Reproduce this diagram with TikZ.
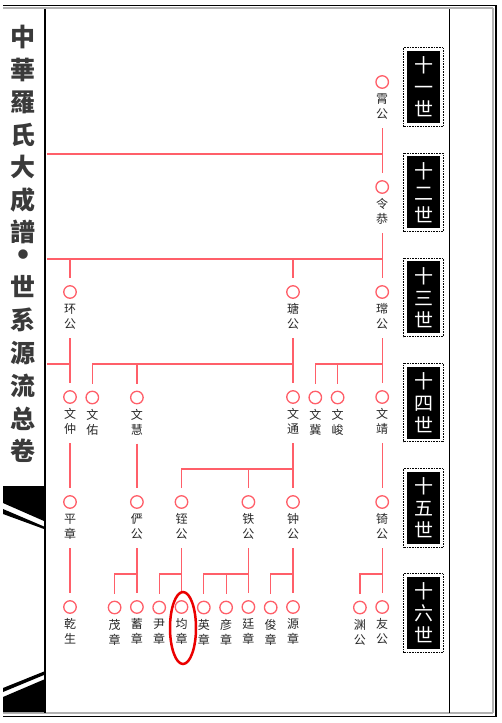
\documentclass[tikz,border=0pt]{standalone}
\usepackage{fontspec}
\usetikzlibrary{shapes.geometric}
\newfontfamily\cjk{Noto Sans CJK SC}
\definecolor{rl}{RGB}{255,95,105}
\definecolor{txt}{RGB}{40,40,40}
\definecolor{ttl}{RGB}{58,58,58}
\definecolor{ring}{RGB}{235,0,0}
\tikzset{
  pc/.style={circle,draw=rl,line width=1.3pt,minimum size=12.5pt,inner sep=0pt},
  lbl/.style={align=center,inner sep=0pt,text=txt,font=\cjk\fontsize{12}{15}\selectfont},
  conn/.style={draw=rl,line width=1.2pt},
  genbox/.style={fill=black,text=white,minimum width=33.5pt,minimum height=72pt,inner sep=0pt,align=center,font=\cjk\fontsize{19}{22}\selectfont},
  gendots/.style={draw=black,line width=1pt,dash pattern=on 0.8pt off 0.8pt},
  titlech/.style={inner sep=0pt,text=ttl,font=\cjk\bfseries\fontsize{25}{25}\selectfont}
}
\newcommand\person[4]{%
  \node[pc] (#1) at (#2,#3) {};
  \node[lbl] (#1-l) at (#2,#3+24.5) {#4};
  \coordinate (#1-t) at (#2,#3-14);
  \coordinate (#1-b) at (#2,#3+46);
}
\begin{document}
\begin{tikzpicture}[x=1pt,y=-1pt]
\useasboundingbox (0,0) rectangle (502,723);
\fill[white] (0,0) rectangle (502,723);
% frame
\draw[line width=1.2pt,black] (3,5.5) -- (497,5.5);
\draw[line width=2.5pt,gray!60] (3,8) -- (493,8);
\draw[line width=1.5pt,gray!60] (493,8) -- (493,713);
\draw[line width=2pt,black] (495.5,5) -- (495.5,717);
\draw[line width=2pt,gray!60] (3,713) -- (493,713);
\draw[line width=1.5pt,black] (3,716.5) -- (497,716.5);
\draw[line width=2pt,black] (45,9) -- (45,713);
\draw[line width=1pt,black] (449,9) -- (449,713);
% left decorations
\fill[black] (3,486) -- (44,486) -- (44,521) -- (3,503) -- cycle;
\fill[black] (3,509) -- (44,526.5) -- (44,529) -- (3,514) -- cycle;
\fill[black] (3,688) -- (44,671.5) -- (44,675) -- (3,692) -- cycle;
\fill[black] (3,697) -- (44,679.5) -- (44,712) -- (3,712) -- cycle;
% title
\foreach \c/\yy [count=\i] in {中/37,華/69.5,羅/102,氏/134.5,大/167,成/199.5,譜/232,世/287,系/320,源/353,流/386,总/418.5,卷/451}
  \node[titlech] (t\i) at (23,\yy) {\c};
\node[inner sep=0pt,text=ttl,font=\cjk\bfseries\fontsize{34}{34}\selectfont] (tdot) at (23,259) {•};
% generation boxes
\foreach \g/\t [count=\i from 0] in {11/一,12/二,13/三,14/四,15/五,16/六}{
  \node[genbox] (gen\g) at (423.5,{87+105.2*\i}) {十\\\t\\世};
  \draw[gendots] ([shift={(-2.8,-3)}]gen\g.north west) rectangle ([shift={(2.8,3)}]gen\g.south east);
}
% people
\person{xiao}{382.2}{82}{霄\\公}
\person{lingong}{382.2}{187}{令\\恭}
\person{huan}{70}{292}{环\\公}
\person{tang}{293}{292}{瑭\\公}
\person{chang}{382.2}{292}{瑺\\公}
\person{wzhong}{70}{397}{文\\仲}
\person{wyou}{92.3}{397.5}{文\\佑}
\person{whui}{136.9}{397.5}{文\\慧}
\person{wtong}{293}{397}{文\\通}
\person{wji}{315.3}{397.5}{文\\冀}
\person{wjun}{337.6}{397.5}{文\\峻}
\person{wjing}{382.2}{397}{文\\靖}
\person{ping}{70}{502}{平\\章}
\person{yan}{136.9}{502}{俨\\公}
\person{zhi}{181.5}{502}{铚\\公}
\person{tie}{248.4}{502}{铁\\公}
\person{zhong}{293}{502}{钟\\公}
\person{qi}{382.2}{502}{锜\\公}
\person{qian}{70}{607}{乾\\生}
\person{mao}{114.6}{607.5}{茂\\章}
\person{xu}{136.9}{607}{蓄\\章}
\person{yin}{159.2}{607.5}{尹\\章}
\person{jun}{181.5}{607}{均\\章}
\person{ying}{203.8}{607.5}{英\\章}
\person{yanz}{226.1}{607.5}{彦\\章}
\person{ting}{248.4}{607}{廷\\章}
\person{junz}{270.7}{607.5}{俊\\章}
\person{yuan}{293}{607}{源\\章}
\person{yuang}{359.9}{607.5}{渊\\公}
\person{you}{382.2}{607}{友\\公}
% bar levels
\coordinate (L12) at (47,154);
\coordinate (L13) at (47,259);
\coordinate (L14) at (47,364);
\coordinate (L15) at (47,469);
\coordinate (L16) at (47,574);
% gen 12
\draw[conn] (xiao-b) -- (lingong-t);
\draw[conn] (L12) -- (L12 -| lingong);
% gen 13
\draw[conn] (lingong-b) -- (chang-t);
\draw[conn] (L13) -- (L13 -| chang);
\draw[conn] (L13 -| huan) -- (huan-t);
\draw[conn] (L13 -| tang) -- (tang-t);
% gen 14
\draw[conn] (huan-b) -- (wzhong-t);
\draw[conn] (L14) -- (L14 -| wzhong);
\draw[conn] (tang-b) -- (wtong-t);
\draw[conn] (wyou-t) -- (wyou |- L14) -- (L14 -| tang);
\draw[conn] (L14 -| whui) -- (whui-t);
\draw[conn] (chang-b) -- (wjing-t);
\draw[conn] (wji-t) -- (wji |- L14) -- (L14 -| wjing);
\draw[conn] (L14 -| wjun) -- (wjun-t);
% gen 15
\draw[conn] (wzhong-b) -- (ping-t);
\draw[conn] (whui-b) -- (yan-t);
\draw[conn] (wtong-b) -- (zhong-t);
\draw[conn] (zhi-t) -- (zhi |- L15) -- (L15 -| zhong);
\draw[conn] (L15 -| tie) -- (tie-t);
\draw[conn] (wjing-b) -- (qi-t);
% gen 16
\draw[conn] (ping-b) -- (qian-t);
\draw[conn] (yan-b) -- (xu-t);
\draw[conn] (mao-t) -- (mao |- L16) -- (L16 -| yan);
\draw[conn] (zhi-b) -- (jun-t);
\draw[conn] (yin-t) -- (yin |- L16) -- (L16 -| zhi);
\draw[conn] (tie-b) -- (ting-t);
\draw[conn] (ying-t) -- (ying |- L16) -- (L16 -| tie);
\draw[conn] (L16 -| yanz) -- (yanz-t);
\draw[conn] (zhong-b) -- (yuan-t);
\draw[conn] (junz-t) -- (junz |- L16) -- (L16 -| zhong);
\draw[conn] (qi-b) -- (you-t);
\draw[conn] (yuang-t) -- (yuang |- L16) -- (L16 -| qi);
% highlight
\node[draw=ring,line width=2.5pt,ellipse,minimum width=26pt,minimum height=72pt,inner sep=0pt] (hl) at (183,628) {};
\end{tikzpicture}
\end{document}
